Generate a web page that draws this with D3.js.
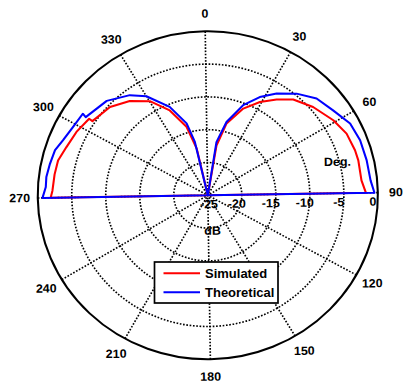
<!DOCTYPE html>
<html>
<head>
<meta charset="utf-8">
<script src="https://cdn.jsdelivr.net/npm/d3@7"></script>
<style>
  body { margin: 0; background: #fff; }
  text { font-family: "Liberation Sans", Arial, sans-serif; font-weight: bold; fill: #000; }
</style>
</head>
<body>
<div id="chart"></div>
<script>
// Simulated pattern (angle in degrees clockwise from top, gain in dB)
const simAngles = [0, 10.4, 15, 22.4, 29.2, 35.6, 41.6, 49.9, 59.1, 66.2, 73.3, 77.4, 85.2, 90, 90.5,
                   269.5, 270, 272.7, 279, 284.5, 290.4, 297.5, 304.7, 304.6, 314, 322.3, 330.2, 337.5, 344.2, 348, 360];
const simDb = [-25, -17.3, -13.7, -10.8, -8.85, -7.25, -5.75, -4.5, -3.3, -2.55, -2.3, -2.25, -2.3, -1.75, -25,
               -25, -1.9, -2.15, -2.25, -2.35, -2.95, -3.4, -4.0, -4.6, -5.3, -6.6, -8.3, -10.9, -14.1, -17.7, -25];

// Theoretical pattern
const theoAngles = [0, 9.8, 14.7, 21.6, 27.9, 34, 41, 48.2, 55.8, 63.3, 70.4, 78, 85.5, 90, 90.5,
                    269.5, 270, 274, 277.6, 282.6, 288, 292.4, 298.6, 305, 304.5, 315, 324, 330, 338.3, 345, 347.7, 360];
const theoDb = [-25, -16.8, -13.5, -10.3, -8.2, -6.5, -4.75, -3.25, -2.5, -1.4, -1.1, -1.05, -0.97, -0.5, -25,
                -25, -0.7, -1.15, -1.1, -1.3, -1.5, -2.1, -2.6, -2.8, -3.45, -4.3, -5.9, -7.4, -10.4, -13.6, -16.65, -25];

const ringTicks = [-25, -20, -15, -10, -5, 0];
const spokeAngles = [0, 30, 60, 90, 120, 150];
const angleTicks = [0, 30, 60, 90, 120, 150, 180, 210, 240, 270, 300, 330];
const seriesNames = ['Simulated', 'Theoretical'];
const seriesColors = ['#ff0000', '#0000ff'];

const width = 403, height = 385;
const cx = 207.8, cy = 195.3;
const R = 164;          // vertical radius of the 0 dB ring
const stretch = 1.037;  // picture is a bit wider than tall
const tilt = -0.9;      // and turned slightly

const toRad = (d) => d * Math.PI / 180;

const svg = d3.select('#chart')
    .append('svg')
    .attr('width', width)
    .attr('height', height);

const g = svg.append('g')
    .attr('transform', `translate(${cx},${cy}) rotate(${tilt}) scale(${stretch},1)`);

const rScale = d3.scaleLinear()
    .domain([ringTicks[0], ringTicks[ringTicks.length - 1]])
    .range([0, R])
    .clamp(true);

// dotted rings
g.selectAll('circle.ring')
    .data(ringTicks.slice(1, -1))
    .join('circle')
    .attr('class', 'ring')
    .attr('r', (d) => rScale(d))
    .attr('fill', 'none')
    .attr('stroke', '#000')
    .attr('stroke-width', 1.6)
    .attr('stroke-dasharray', '1.6,1.6');

// dotted spokes
g.selectAll('line.spoke')
    .data(spokeAngles)
    .join('line')
    .attr('class', 'spoke')
    .attr('x1', (d) => -R * Math.sin(toRad(d)))
    .attr('y1', (d) => R * Math.cos(toRad(d)))
    .attr('x2', (d) => R * Math.sin(toRad(d)))
    .attr('y2', (d) => -R * Math.cos(toRad(d)))
    .attr('stroke', '#000')
    .attr('stroke-width', 1.6)
    .attr('stroke-dasharray', '1.6,1.6');

// outer ring
g.append('circle')
    .attr('r', rScale(0))
    .attr('fill', 'none')
    .attr('stroke', '#000')
    .attr('stroke-width', 2);

// curves
const radial = d3.lineRadial()
    .angle((d) => toRad(d[0]))
    .radius((d) => rScale(d[1]));

const series = [
    d3.zip(simAngles, simDb),
    d3.zip(theoAngles, theoDb)
];

g.selectAll('path.curve')
    .data(series)
    .join('path')
    .attr('class', 'curve')
    .attr('d', radial)
    .attr('fill', 'none')
    .attr('stroke', (d, i) => seriesColors[i])
    .attr('stroke-width', 2)
    .attr('stroke-linejoin', 'round');

// angle labels
const labelR = R + 17.5;
g.selectAll('text.ang')
    .data(angleTicks)
    .join('text')
    .attr('class', 'ang')
    .attr('x', (d) => labelR * Math.sin(toRad(d)))
    .attr('y', (d) => -labelR * Math.cos(toRad(d)))
    .attr('text-anchor', 'middle')
    .attr('dominant-baseline', 'central')
    .attr('font-size', 12)
    .text((d) => d);

// dB labels
g.selectAll('text.db')
    .data(ringTicks)
    .join('text')
    .attr('class', 'db')
    .attr('x', (d) => Math.max(rScale(d) - 5, 1))
    .attr('y', 9)
    .attr('text-anchor', 'middle')
    .attr('dominant-baseline', 'central')
    .attr('font-size', 12)
    .text((d) => d);

g.append('text')
    .attr('x', 4).attr('y', 35.5)
    .attr('text-anchor', 'middle')
    .attr('dominant-baseline', 'central')
    .attr('font-size', 12)
    .text('dB');

g.append('text')
    .attr('x', 125.5).attr('y', -31.3)
    .attr('text-anchor', 'middle')
    .attr('dominant-baseline', 'central')
    .attr('font-size', 12)
    .text('Deg.');

// legend
const legend = svg.append('g').attr('transform', 'translate(154.5,262)');
legend.append('rect')
    .attr('width', 123.5)
    .attr('height', 41)
    .attr('fill', '#fff')
    .attr('stroke', '#000')
    .attr('stroke-width', 1.7);

const items = legend.selectAll('g.item')
    .data(seriesNames)
    .join('g')
    .attr('class', 'item')
    .attr('transform', (d, i) => `translate(0,${11.3 + i * 19})`);

items.append('line')
    .attr('x1', 9).attr('x2', 45.5)
    .attr('stroke', (d, i) => seriesColors[i])
    .attr('stroke-width', 2);

items.append('text')
    .attr('x', 50.5)
    .attr('y', 4.6)
    .attr('font-size', 13)
    .text((d) => d);
</script>
</body>
</html>
